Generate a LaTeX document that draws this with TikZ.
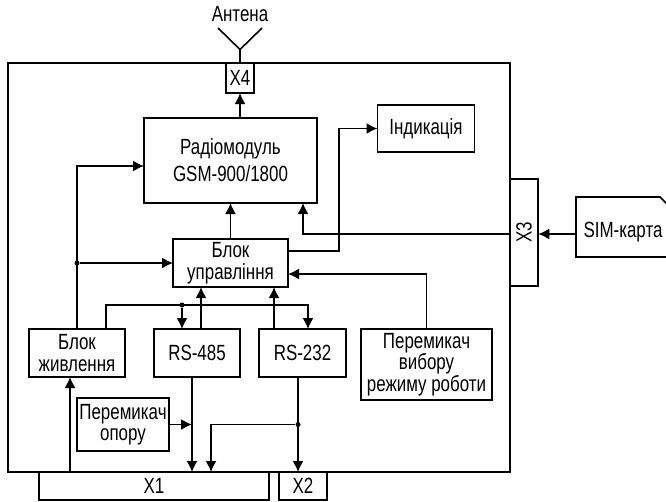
\documentclass[tikz,border=0pt]{standalone}
\usepackage{fontspec}
\setmainfont[FakeStretch=0.77]{Liberation Sans}
\usetikzlibrary{arrows.meta}

\begin{document}
\begin{tikzpicture}[block/.style 2 args={draw, line width=1.6pt, minimum width=#1pt, minimum height=#2pt, inner sep=0pt, outer sep=0pt, align=center},
    dot/.style={circle, fill, inner sep=0pt, minimum size=5pt},
    x=1pt, y=-1pt,
    >={Latex[length=11pt,width=11pt]},   %arrow tips
    line width=1.6pt,
    font=\fontsize{22}{21.5}\selectfont]
    \useasboundingbox (0,0) rectangle (666,501);
    %outer frame
    \node[block={501.5}{409}, line width=2pt] (frame) at (258.75,267.5) {};
    %connectors on the frame
    \node[block={28}{30}] (x4) at (240,78) {X4};
    \node[block={28.5}{107}] (x3) at (524,232.5) {};
    \node[rotate=90] (x3text) at (x3.center) {X3};
    \node[block={230}{28}] (x1) at (154,486) {X1};
    \node[block={48}{28}] (x2) at (303,486) {X2};
    %blocks
    \node[block={173}{85}] (radio) at (230.5,160.5) {Радіомодуль\\[5.5pt]GSM-900/1800};
    \node[block={97}{47}] (ind) at (426,128.5) {Індикація};
    \node[block={115}{48}] (ctrl) at (230.5,263) {Блок\\управління};
    \node[block={96}{48}] (power) at (77,353) {Блок\\живлення};
    \node[block={86}{48}] (rs485) at (197,353) {RS-485};
    \node[block={87}{48}] (rs232) at (302.5,353) {RS-232};
    \node[block={131}{71}] (swmode) at (426.5,364.5) {Перемикач\\вибору\\режиму роботи};
    \node[block={92}{53}] (swref) at (123,424.5) {Перемикач\\опору};
    %antenna
    \coordinate (antbase) at (240,49.5);
    \coordinate (antl) at (218,28);
    \coordinate (antr) at (262,28);
    \draw (x4.north) -- (antbase);
    \draw (antl) -- (antbase) -- (antr);
    \node (antname) at (240,14) {Антена};
    %SIM card
    \coordinate (simnw) at (576,197);
    \coordinate (simcut) at (660,197);
    \coordinate (simne) at (667,204);
    \coordinate (simse) at (667,257);
    \coordinate (simsw) at (576,257);
    \coordinate (simin) at (576,234);
    \draw (simin) -- (simnw) -- (simcut) -- (simne) -- (simse) -- (simsw) -- (simin);
    \node (sim) at (623,232) {SIM-карта};
    \draw[->] (simin) -- (simin -| x3.east);
    %upper part
    \draw[->] (x4.south |- radio.north) -- (x4.south);
    \draw[->] (ctrl.north) -- (radio.south);
    \draw[->] ([yshift=-1.5pt]x3.west) -| ([xshift=72.5pt]radio.south);
    \coordinate (indturn) at (339,128.5);
    \draw[->] ([yshift=12pt]ctrl.east) -| (indturn) -- (ind.west);
    \draw[->] (swmode.north) |- ([yshift=-11pt]ctrl.east);
    %supply
    \draw[->] (power.north) |- ([yshift=-5.5pt]radio.west);
    \node[dot] (pdot) at (power.north |- ctrl.west) {};
    \draw[->] (pdot) -- (ctrl.west);
    \draw[->] ([xshift=-7pt]power.south |- frame.south) -- ([xshift=-7pt]power.south);
    %bus
    \coordinate (busl) at (106,305);
    \coordinate (busr) at (308,305);
    \draw[->] (busl |- power.north) -- (busl) -- (busr) -- (busr |- rs232.north);
    \node[dot] (busdot) at (182,305) {};
    \draw[->] (busdot) -- (busdot |- rs485.north);
    \draw[->] ([xshift=4pt]rs485.north) -- ([xshift=4pt]rs485.north |- ctrl.south);
    \draw[->] ([xshift=-28.5pt]rs232.north) -- ([xshift=-28.5pt]rs232.north |- ctrl.south);
    %lower part
    \draw[->] ([xshift=-5pt]rs485.south) -- ([xshift=-5pt]rs485.south |- frame.south);
    \draw[->] ([xshift=-4.5pt]rs232.south) -- ([xshift=-4.5pt]rs232.south |- frame.south);
    \draw[->] (swref.east) -- ([xshift=-5pt]rs485.south |- swref.east);
    \node[dot] (rsdot) at ([xshift=-4.5pt]rs232.south |- swref.east) {};
    \coordinate (rsturn) at (211,472);
    \draw[->] (rsdot) -| (rsturn);
\end{tikzpicture}
\end{document}
